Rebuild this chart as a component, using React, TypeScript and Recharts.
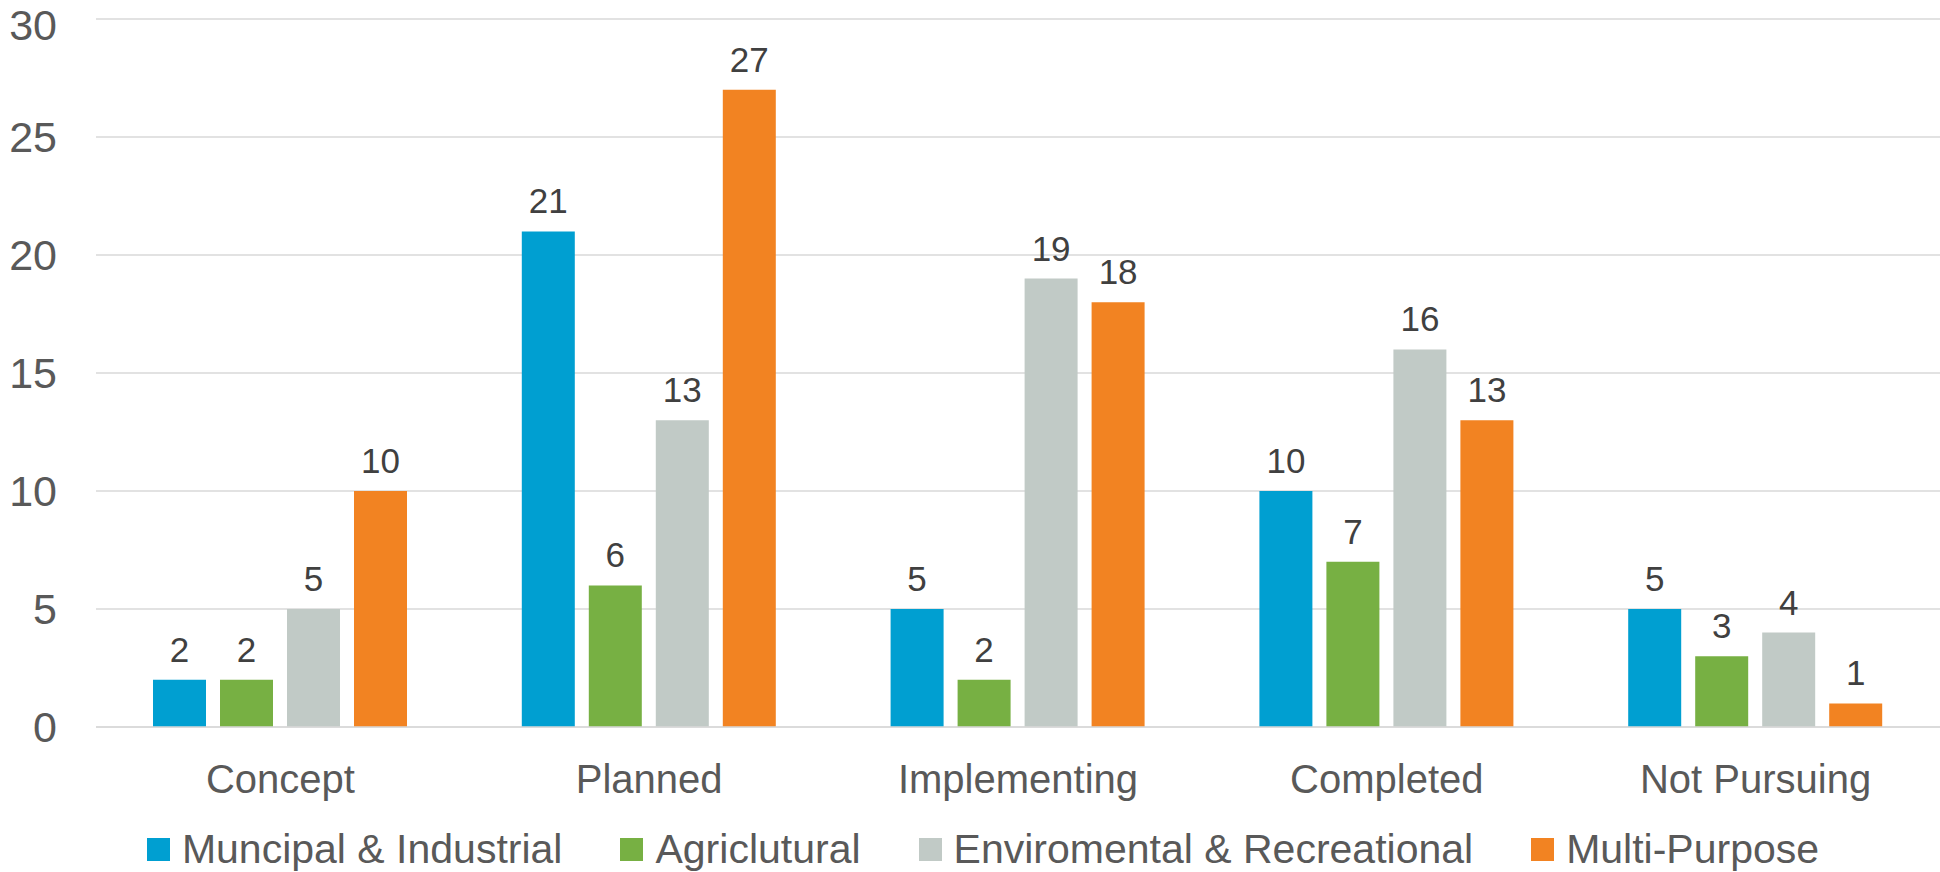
import { BarChart, Bar, XAxis, YAxis, CartesianGrid, Legend, LabelList } from 'recharts';

const categories = ['Concept', 'Planned', 'Implementing', 'Completed', 'Not Pursuing'];
const municipal = [2, 21, 5, 10, 5];
const agricultural = [2, 6, 2, 7, 3];
const environmental = [5, 13, 19, 16, 4];
const multiPurpose = [10, 27, 18, 13, 1];
const yTicks = [0, 5, 10, 15, 20, 25, 30];

const series = [
  { key: 'municipal', name: 'Muncipal & Industrial', color: '#009fd1' },
  { key: 'agricultural', name: 'Agriclutural', color: '#77b043' },
  { key: 'environmental', name: 'Enviromental & Recreational', color: '#c1cac6' },
  { key: 'multiPurpose', name: 'Multi-Purpose', color: '#f28322' },
];

const data = categories.map((name, i) => ({
  name,
  municipal: municipal[i],
  agricultural: agricultural[i],
  environmental: environmental[i],
  multiPurpose: multiPurpose[i],
}));

const FONT = '"Liberation Sans", Arial, sans-serif';

function LegendContent({ payload }: any) {
  // keep the series order, not the alphabetical one
  const items = series
    .map((s) => (payload || []).find((p: any) => p.value === s.name))
    .filter(Boolean);
  return (
    <div
      style={{
        display: 'flex',
        justifyContent: 'center',
        alignItems: 'center',
        height: 50,
        paddingTop: 4,
        paddingLeft: 26,
        boxSizing: 'border-box',
        fontFamily: FONT,
        fontSize: 41,
        color: '#595959',
      }}
    >
      {items.map((entry: any, i: number) => (
        <div
          key={entry.value}
          style={{
            display: 'flex',
            alignItems: 'center',
            marginRight: i < items.length - 1 ? 58 : 0,
          }}
        >
          <span
            style={{
              display: 'inline-block',
              width: 23,
              height: 23,
              background: entry.color,
              marginRight: 12,
            }}
          />
          <span>{entry.value}</span>
        </div>
      ))}
    </div>
  );
}

export default function App() {
  return (
    <div style={{ position: 'absolute', left: 0, top: 0, background: '#fff' }}>
      <BarChart
        width={1940}
        height={872}
        data={data}
        margin={{ top: 19, right: 0, left: 0, bottom: 0 }}
        barCategoryGap={57}
        barGap={14}
      >
        <CartesianGrid vertical={false} stroke="#d9d9d9" strokeWidth={1.5} />
        <XAxis
          dataKey="name"
          height={95}
          tickLine={false}
          tickSize={0}
          tickMargin={38}
          axisLine={{ stroke: '#d9d9d9', strokeWidth: 1.5 }}
          tick={{ fill: '#595959', fontSize: 40, fontFamily: FONT }}
          interval={0}
        />
        <YAxis
          width={96}
          domain={[0, 30]}
          ticks={yTicks}
          axisLine={false}
          tickLine={false}
          tickSize={0}
          tickMargin={39}
          tick={{ fill: '#595959', fontSize: 43, fontFamily: FONT }}
        />
        <Legend
          verticalAlign="bottom"
          height={50}
          content={<LegendContent />}
        />
        {series.map((s) => (
          <Bar
            key={s.key}
            dataKey={s.key}
            name={s.name}
            fill={s.color}
            isAnimationActive={false}
          >
            <LabelList
              dataKey={s.key}
              position="top"
              offset={18}
              fill="#404040"
              fontSize={35}
              fontFamily={FONT}
            />
          </Bar>
        ))}
      </BarChart>
    </div>
  );
}
